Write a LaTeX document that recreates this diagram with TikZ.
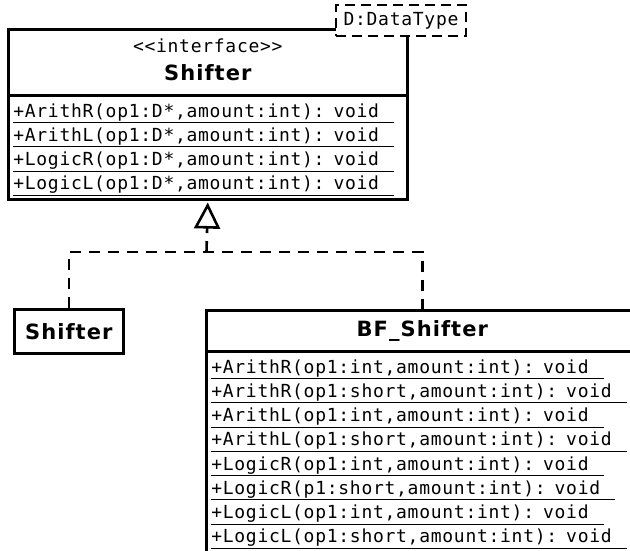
\documentclass[tikz,border=0pt]{standalone}
\usepackage{fontspec}
\usetikzlibrary{arrows.meta,positioning}
\newfontfamily\umlmono[LetterSpace=4,Ligatures=TeXOff]{DejaVu Sans Mono}
\newfontfamily\umlsans[LetterSpace=5]{DejaVu Sans}
\newcommand{\umltitle}[1]{{\umlsans\bfseries\fontsize{21}{24}\selectfont #1}}
\newcommand{\umlop}[1]{\underline{#1\hphantom{x}\kern4pt}}

\tikzset{
style1/.style={draw,line width=2.6pt,anchor=north west,inner sep=0pt,align=center,fill=white},
style2/.style={draw,line width=2.6pt,anchor=north west,inner xsep=5pt,inner ysep=9pt,text height=13pt,align=left,
  font=\umlmono\fontsize{18}{24.2}\selectfont},
style3/.style={draw,dash pattern=on 10pt off 6pt,line width=2.6pt,fill=white,inner sep=0pt,
  font=\umlmono\fontsize{18}{20}\selectfont},
realize/.style={dash pattern=on 11pt off 8pt,line width=2.6pt}
}

\begin{document}
\begin{tikzpicture}[x=1pt,y=-1pt]
\useasboundingbox (0,0) rectangle (630,550);

% the interface and its operations
\node[style1,minimum width=399pt,minimum height=66pt,text depth=5pt,font=\umlmono\fontsize{18}{28}\selectfont] (c1) at (7,28)
  {<<interface>>\\\umltitle{Shifter}};
\node[style2,text width=389pt,text depth=73pt] (c1m) at (7,94)
  {\umlop{+ArithR(op1:D*,amount:int): void}\\
   \umlop{+ArithL(op1:D*,amount:int): void}\\
   \umlop{+LogicR(op1:D*,amount:int): void}\\
   \umlop{+LogicL(op1:D*,amount:int): void}};
\node[style3,minimum width=130pt,minimum height=31pt] (c4) at (401,20.5) {D:DataType};

% the two classes below
\node[style1,minimum width=109pt,minimum height=44pt] (c2) at (13,308) {\umltitle{Shifter}};
\node[style1,minimum width=432pt,minimum height=41pt] (c3) at (205,309) {\umltitle{BF\_Shifter}};
\node[style2,text width=422pt,text depth=172pt] (c3m) at (205,350)
  {\umlop{+ArithR(op1:int,amount:int): void}\\
   \umlop{+ArithR(op1:short,amount:int): void}\\
   \umlop{+ArithL(op1:int,amount:int): void}\\
   \umlop{+ArithL(op1:short,amount:int): void}\\
   \umlop{+LogicR(op1:int,amount:int): void}\\
   \umlop{+LogicR(p1:short,amount:int): void}\\
   \umlop{+LogicL(op1:int,amount:int): void}\\
   \umlop{+LogicL(op1:short,amount:int): void}};

% realization lines
\coordinate (j) at (206.5,252);
\draw[realize] (c2.north) |- (j) -| (c3.north);
\draw[realize,-{Triangle[open,length=26pt,width=26pt]},shorten >=2pt] (j) -- (c1m.south);
\end{tikzpicture}
\end{document}
